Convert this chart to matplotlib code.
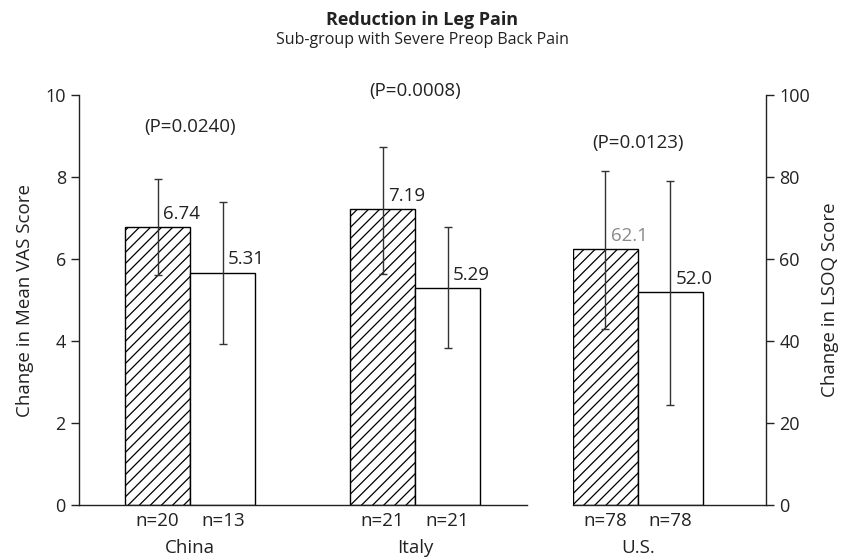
import matplotlib.pyplot as plt

# ___ DATA ___
countries = ['China', 'Italy', 'U.S.']
hatched_vals = [6.77, 7.21, 62.4]      # drawn bar heights
white_vals = [5.67, 5.30, 51.9]
hatched_labels = ['6.74', '7.19', '62.1']
white_labels = ['5.31', '5.29', '52.0']
hatched_hi = [7.96, 8.74, 81.4]
hatched_lo = [5.61, 5.63, 43.0]
white_hi = [7.40, 6.77, 79.0]
white_lo = [3.93, 3.84, 24.5]
n_hatched = [20, 21, 78]
n_white = [13, 21, 78]
p_values = ['0.0240', '0.0008', '0.0123']
p_heights = [9.22, 10.1, 88.3]

plt.rcParams['font.family'] = ['Open Sans', 'DejaVu Sans']
plt.rcParams['hatch.linewidth'] = 0.9
plt.rcParams['hatch.color'] = '#333333'

W, H = 843, 557
fig = plt.figure(figsize=(W / 100, H / 100), dpi=100)

def frac(x0, x1, ytop, ybot):
    return [x0 / W, 1 - ybot / H, (x1 - x0) / W, (ybot - ytop) / H]

ax1 = fig.add_axes(frac(79, 527, 95, 505))
ax2 = fig.add_axes(frac(573, 766, 95, 505))

FS = 13.5

def draw_group(ax, x, i, scale):
    ax.bar(x, hatched_vals[i], width=1, color='white', edgecolor='black',
           hatch='///', linewidth=1.0, zorder=2)
    ax.bar(x + 1, white_vals[i], width=1, color='white', edgecolor='black',
           linewidth=1.0, zorder=2)
    for xx, v, hi, lo, lab in [(x, hatched_vals[i], hatched_hi[i], hatched_lo[i], hatched_labels[i]),
                               (x + 1, white_vals[i], white_hi[i], white_lo[i], white_labels[i])]:
        ax.errorbar(xx, v, yerr=[[v - lo], [hi - v]], fmt='none', ecolor='#333333',
                    elinewidth=1.0, capsize=3, capthick=1.0, zorder=3)
        col = '#8a8a8a' if lab == '62.1' else '#222222'
        ax.text(xx + 0.08, v + 0.1 * scale, lab, ha='left', va='bottom',
                fontsize=FS, color=col, zorder=4)
    ax.text(x + 0.5, p_heights[i], '(P=%s)' % p_values[i], ha='center',
            va='center', fontsize=FS, color='#222222', clip_on=False)
    ax.text(x + 0.5, -0.105, countries[i], ha='center', va='center',
            fontsize=FS, color='#222222', transform=ax.get_xaxis_transform())

# ___ LEFT PANEL (VAS) ___
xs1 = [0, 3.46]
for i, x in enumerate(xs1):
    draw_group(ax1, x, i, 1)
ax1.set_xlim(-1.21, 5.68)
ax1.set_ylim(0, 10)
ax1.set_yticks(range(0, 11, 2))
ax1.set_xticks([xs1[0], xs1[0] + 1, xs1[1], xs1[1] + 1])
ax1.set_xticklabels(['n=%d' % n_hatched[0], 'n=%d' % n_white[0],
                     'n=%d' % n_hatched[1], 'n=%d' % n_white[1]])
ax1.spines[['top', 'right']].set_visible(False)
ax1.set_ylabel('Change in Mean VAS Score', fontsize=FS, color='#222222', labelpad=8)

# ___ RIGHT PANEL (LSOQ) ___
draw_group(ax2, 0, 2, 10)
ax2.set_xlim(-0.5, 2.47)
ax2.set_ylim(0, 100)
ax2.set_yticks(range(0, 101, 20))
ax2.set_xticks([0, 1])
ax2.set_xticklabels(['n=%d' % n_hatched[2], 'n=%d' % n_white[2]])
ax2.spines[['top', 'left']].set_visible(False)
ax2.yaxis.tick_right()
ax2.yaxis.set_label_position('right')
ax2.set_ylabel('Change in LSOQ Score', fontsize=FS, color='#222222', labelpad=8)

for ax in (ax1, ax2):
    for s in ax.spines.values():
        s.set_linewidth(1.0)
        s.set_color('#222222')
    ax.tick_params(axis='y', length=6, width=1.0, labelsize=13, colors='#222222')
    ax.tick_params(axis='x', length=0, labelsize=FS, colors='#222222', pad=5)

fig.text(422 / W, 1 - 20 / H, 'Reduction in Leg Pain', ha='center', va='center',
         fontsize=13, fontweight='bold', color='#222222')
fig.text(422 / W, 1 - 40 / H, 'Sub-group with Severe Preop Back Pain', ha='center',
         va='center', fontsize=11.5, color='#222222')

fig.savefig('out.png', dpi=100)
